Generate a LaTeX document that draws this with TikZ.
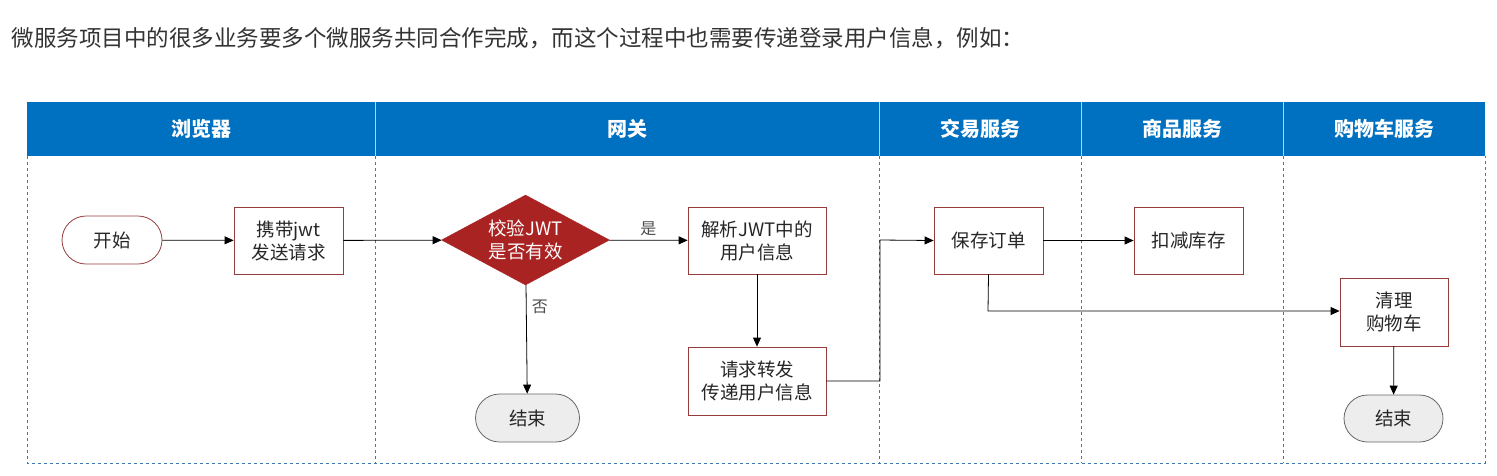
\documentclass[tikz,border=0pt]{standalone}
\usepackage{fontspec}
\setmainfont{Noto Sans CJK SC}
\usetikzlibrary{shapes.geometric,shapes.misc,arrows.meta}
\definecolor{hdr}{RGB}{0,112,192}
\definecolor{dsh}{RGB}{60,120,180}
\definecolor{bx}{RGB}{150,60,60}
\definecolor{dia}{RGB}{170,35,35}
\begin{document}
\begin{tikzpicture}[x=1pt,y=-1pt,
 lbl/.style={font=\fontsize{18.5}{23}\selectfont,align=center,text=black!85},
 box/.style={lbl,draw=bx,fill=white,line width=0.8pt,minimum width=109pt,minimum height=67pt,inner sep=0pt},
 term/.style={lbl,draw=bx,rounded rectangle,fill=white,line width=0.8pt,minimum width=102pt,minimum height=48pt,inner sep=0pt},
 arr/.style={-{Triangle[length=9pt,width=8pt]},line width=0.8pt},
 hd/.style={font=\fontsize{20}{22}\selectfont\bfseries,text=white},
 dl/.style={dsh,dashed,line width=0.7pt}]
\useasboundingbox (0,0) rectangle (1497,475);
\node[anchor=west,font=\fontsize{22.5}{26}\selectfont,text=black!80] (title) at (8,38) {微服务项目中的很多业务要多个微服务共同合作完成，而这个过程中也需要传递登录用户信息，例如：};
\fill[hdr] (27,102) rectangle (1485,156);
\foreach \x in {375,879,1081,1283}{\draw[white!70!hdr,line width=0.6pt] (\x,102) -- (\x,156); \draw[dl] (\x,156) -- (\x,463);}
\draw[dl] (27,156) -- (27,463) -- (1485,463) -- (1485,156);
\node[hd] (h1) at (201,129) {浏览器};
\node[hd] (h2) at (627,129) {网关};
\node[hd] (h3) at (980,129) {交易服务};
\node[hd] (h4) at (1182,129) {商品服务};
\node[hd] (h5) at (1384,129) {购物车服务};
\node[term,minimum width=100pt] (start) at (112,240) {开始};
\node[box] (jwt) at (288.5,240.5) {携带jwt\\发送请求};
\node[diamond,draw=dia,fill=dia,aspect=1.87,minimum width=168pt,minimum height=90pt,inner sep=0pt,lbl,text=white] (chk) at (525.5,240) {校验JWT\\是否有效};
\node[box,minimum width=138pt] (parse) at (757,240.5) {解析JWT中的\\用户信息};
\node[box,minimum width=138pt,minimum height=68pt] (fwd) at (757,381) {请求转发\\传递用户信息};
\node[term,fill=black!7,draw=black!60,minimum width=104pt] (end1) at (527.5,418) {结束};
\node[box] (save) at (988.5,240.5) {保存订单};
\node[box] (stock) at (1188.5,240.5) {扣减库存};
\node[box,minimum width=108pt,minimum height=68pt] (cart) at (1394,312) {清理\\购物车};
\node[term,fill=black!7,draw=black!60,minimum width=99pt,minimum height=47pt] (end2) at (1393.5,418.5) {结束};
\draw[arr] (start) -- (jwt);
\draw[arr] (jwt) -- (chk);
\draw[arr] (chk) -- node[above,lbl,font=\fontsize{16}{18}\selectfont,text=black!70,pos=0.5,yshift=1pt] (yes) {是} (parse);
\draw[arr] (chk) -- node[right,lbl,font=\fontsize{16}{18}\selectfont,text=black!70,pos=0.2,xshift=2pt] (no) {否} (end1);
\draw[arr] (parse) -- (fwd);
\coordinate (c1) at (880,381);
\coordinate (c2) at (880,240);
\draw[arr] (fwd.east) -- (c1) -- (c2) -- (save.west);
\draw[arr] (save) -- (stock);
\coordinate (c3) at (988,311);
\draw[arr] (save.south) -- (c3) -- (cart.west |- c3);
\draw[arr] (cart) -- (end2);
\end{tikzpicture}
\end{document}
